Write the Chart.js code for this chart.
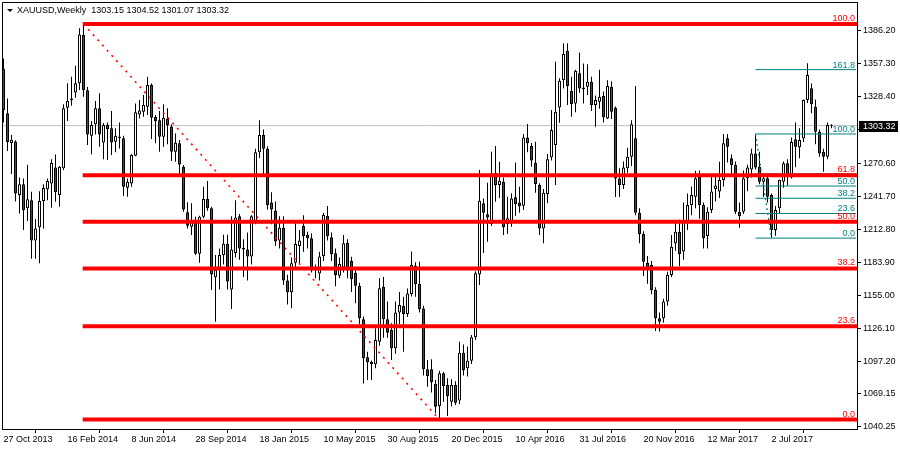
<!DOCTYPE html>
<html><head><meta charset="utf-8">
<script src="https://cdn.jsdelivr.net/npm/chart.js@4.4.1/dist/chart.umd.min.js"></script>
<style>html,body{margin:0;padding:0;background:#fff;}#wrap{width:900px;height:450px;}</style>
</head><body><div id="wrap"><canvas id="c" width="900" height="450"></canvas></div>
<script>
const titleText = 'XAUUSD,Weekly  1303.15 1304.52 1301.07 1303.32';
const dateLabels = ['27 Oct 2013','16 Feb 2014','8 Jun 2014','28 Sep 2014','18 Jan 2015','10 May 2015','30 Aug 2015','20 Dec 2015','10 Apr 2016','31 Jul 2016','20 Nov 2016','12 Mar 2017','2 Jul 2017'];
const yTickValues = [1040.25,1069.15,1097.20,1126.10,1155.00,1183.90,1212.80,1241.70,1270.60,1299.50,1328.40,1357.30,1386.20];

const opens = [1353,1314,1288,1289.5,1242.6,1252,1231,1238,1203,1214.4,
1237.4,1247.6,1252.8,1266.8,1242.6,1266,1318.9,1325.6,1332.3,1340.2,
1382.4,1334.1,1294.5,1304.4,1318.4,1288.6,1303.8,1300.9,1289.2,1292.5,
1292.2,1249,1252.8,1277,1313.1,1315.5,1319.8,1338.7,1310.8,1307.9,
1293.6,1309,1302.6,1280.5,1287.8,1267.4,1227.5,1215,1218.8,1191.4,
1223.7,1239.2,1231,1170.7,1177.1,1190,1200,1160,1192,1224,
1195,1195,1189,1219,1280,1295,1283,1236,1229,1203,
1214,1168,1158,1183.5,1198,1215.6,1207.7,1204.8,1177,1174,
1189.4,1224.3,1205.7,1191.7,1172,1179.5,1201,1185,1174.8,1163.2,
1134,1100.8,1096.8,1094.7,1114.5,1162.6,1134,1124.7,1108.7,1139.9,
1145.7,1138.7,1156.2,1180.6,1164.9,1143.4,1090.4,1090.4,1077.5,1058.3,
1086.9,1076.7,1062.1,1076.7,1063,1104.9,1091.2,1097.9,1118.3,1173.3,
1235.4,1225.8,1217.3,1262.2,1251.4,1254.3,1217.3,1218.5,1240.6,1236,
1233.3,1293,1285.5,1270.9,1251.4,1213.5,1243.5,1275.6,1286.3,1319.2,
1343.1,1368.7,1333.5,1322.7,1349,1335,1337.3,1341.7,1321.3,1324.2,
1329.1,1309.6,1337.3,1319,1257,1251.4,1266,1276.1,1292.2,1227.2,
1208.6,1183.5,1181.5,1159.7,1134.9,1134.9,1149.5,1172.8,1200.4,1210.6,
1193.2,1220,1233.9,1241.2,1258.7,1233.9,1206.8,1229.6,1247.8,1245.7,
1255.8,1292.2,1274.7,1268.9,1228.1,1228.1,1257.2,1265,1279,1267.4,
1254.3,1257.2,1242.6,1212.1,1231,1254.3,1270.3,1258,1291.3,1284.3,
1292,1325.6,1336,1319.8,1298,1280.5,1276.1,1303.15];
const highs = [1362,1327,1295,1290.5,1258,1257,1269,1245.6,1221.7,1246,
1252,1257,1273.8,1278,1268,1321.9,1340.2,1346,1355.6,1388.3,
1392.1,1337,1307.3,1324.8,1331.5,1305.5,1306,1316,1300.9,1306,
1294.5,1257,1278.2,1322.7,1325.6,1330,1346,1340,1312.5,1316,
1321.9,1318.4,1304.4,1296.5,1290.7,1268.9,1236.3,1235.4,1223.7,1224.5,
1249.9,1254.9,1232.5,1190.2,1196,1208,1208,1224,1238,1226,
1204,1210,1225,1283,1308,1300,1285,1245,1237,1224,
1224,1173,1188,1218.5,1212,1225,1210.5,1209.2,1182,1193,
1227,1233,1210,1196,1188,1207.7,1204,1188.8,1177,1166,
1136.4,1105.8,1098,1126.2,1170,1171,1149.5,1130.5,1149.5,1158,
1153.8,1161,1193.2,1184,1184.4,1146,1098.5,1099.1,1081,1089.2,
1088,1082.5,1081.6,1080,1114.5,1112,1110.2,1120.4,1176,1264.5,
1239.7,1253.4,1280.5,1285.5,1271.8,1258,1241.2,1244.1,1270.9,1249.9,
1296,1304.7,1288,1289.2,1253,1248,1278.5,1316.9,1359.1,1344.6,
1375.2,1375.2,1346,1352,1367.2,1357.5,1357,1346,1329.7,1352,
1333,1343,1342,1320,1266,1272,1284,1308,1337.9,1231,
1211,1189.4,1185,1162,1140,1152,1175.7,1207.7,1219,1221,
1236,1244,1250,1263.9,1264,1236,1232,1261,1259,1271.8,
1296,1296,1278,1272,1236,1264,1269,1283,1296,1280.5,
1259,1260,1244,1233,1256,1272,1274,1293,1306,1300.9,
1326,1357.7,1340,1326,1300,1283,1306,1304.52];
const lows = [1306,1281,1261,1237,1226.6,1212,1220,1187,1187,1183,
1213.5,1238,1231.6,1236.8,1232.5,1264.5,1307.3,1320.7,1327.7,1334.4,
1328.6,1286.3,1278.2,1295.6,1284.9,1274,1273.2,1277.6,1280,1283.4,
1241.8,1241.2,1249.9,1276.5,1309.6,1311,1312.5,1291.6,1287.8,1280.5,
1284.9,1286.9,1272.3,1271.8,1258.7,1228,1213.5,1207.7,1190.2,1183.5,
1222.3,1229,1159.7,1132,1160,1182,1160,1143,1188,1186,
1171,1168,1182,1217,1275,1260,1230,1217,1198,1196,
1164,1147,1143.6,1178,1183,1193,1196,1175,1170,1168,
1185,1203,1185,1163,1170,1175,1170,1158,1148,1130,
1078,1081,1081,1091.2,1111,1118,1118,1098.5,1104,1130,
1105.8,1136,1154,1153.8,1139.9,1085,1075.2,1070,1052,1046.4,
1062,1049.5,1058,1059.2,1060,1085,1084,1095,1116,1164,
1192,1201.9,1215.6,1236.8,1240,1207.7,1208.6,1215,1224.3,1227.2,
1229.6,1280,1267.4,1244.7,1207.7,1200.4,1235.4,1272.7,1251.4,1305.8,
1335.8,1321.3,1311,1315,1332,1322.7,1330,1316,1302.3,1318,
1306,1309,1309,1241,1241,1248,1262,1268,1225,1200.4,
1171.9,1165.1,1156,1123.9,1123.5,1131,1146,1171,1194,1180.6,
1186,1212,1225,1231,1222,1196,1196,1227,1237,1240,
1250,1271,1260,1226,1214,1226,1246,1258,1265,1252,
1241,1236,1205,1207,1227,1249,1251,1257,1267,1274.7,
1289,1323,1314,1287,1276,1263,1274,1301.07];
const closes = [1317,1289,1291,1244,1252,1229.3,1239,1203,1213.5,1237.4,
1248.8,1254.9,1270.6,1245,1267.4,1318.4,1324.8,1327,1340.2,1383,
1334.4,1295.6,1303.8,1318.4,1295.6,1303.8,1300.3,1288.6,1294.5,1293.5,
1249.9,1254.3,1277.6,1314.9,1316.6,1321.3,1338.7,1310.2,1307.3,1293.6,
1310.2,1303.8,1280.5,1288.4,1269.4,1230.1,1215.9,1218.8,1191.4,1223.7,
1239.2,1231,1173.3,1177.1,1190.2,1200,1167,1195,1223,1196,
1196.5,1189,1224,1280,1295,1283,1234,1230,1202,1214,
1168,1157.6,1183,1199.8,1203,1206.8,1204.8,1176.6,1178.5,1189,
1225.2,1206.8,1191.1,1172.8,1182.4,1200.4,1176.6,1169,1163.4,1134.9,
1100,1096.5,1094.7,1116,1161.1,1134,1122.4,1108.7,1139.9,1146.6,
1138.7,1156.7,1181.5,1164.9,1142.8,1090.4,1084.5,1079,1057.7,1086.9,
1075.8,1067.1,1076.7,1061.2,1104.9,1089.8,1097.9,1118.3,1174.2,1237.7,
1227.2,1223.1,1259.3,1251.4,1255.2,1214.4,1222.3,1239.7,1234.8,1233,
1293,1287.8,1272.7,1252.3,1213.5,1244.7,1273.8,1299.4,1315.5,1342.5,
1365.8,1337.9,1322.2,1351,1335.8,1336.7,1341.7,1321.3,1325.6,1328.6,
1310.5,1337.9,1315.5,1257,1251.4,1266.8,1276.1,1304.4,1227.2,1208.6,
1184.4,1177.1,1159.7,1134.9,1132,1149.5,1172.8,1197.5,1210.6,1191.1,
1220,1234,1242.6,1257.2,1234,1204.8,1228.1,1245.7,1251,1255.8,
1287.8,1284.9,1268.9,1228.1,1224,1257.2,1266.8,1279,1266.8,1254.3,
1257.2,1241.2,1212.1,1229.6,1255.8,1270.3,1258.7,1289,1284.9,1290.7,
1325.6,1347.5,1322,1298,1279,1276.1,1303.8,1303.32];

const redFibLabels = ['0.0','23.6','38.2','50.0','61.8','100.0'];
const redFibPrices = [1046.4,1128.0,1178.5,1219.3,1260.0,1392.1];
const redFibHighBar = 20, redFibLowBar = 109;
const tealFibLabels = ['0.0','23.6','38.2','50.0','61.8','100.0','161.8'];
const tealFibPrices = [1205.0,1226.5,1239.8,1250.5,1261.2,1296.0,1352.2];
const tealFibHighBar = 188, tealFibLowBar = 192;
const lastPrice = 1303.32;

const X_MIN = -0.375, X_MAX = 213.375;
const FONT = "'Liberation Sans', Arial, sans-serif";
const RED = '#ff0000', TEAL = '#008080';

const idx = opens.map((_, i) => i);
const wickData = idx.map(i => ({x: i, y: [lows[i], highs[i]]}));
const bodyData = idx.map(i => ({x: i, y: [opens[i], closes[i]]}));
const bodyColors = idx.map(i => closes[i] >= opens[i] ? '#ffffff' : RED);

const datasets = [];
datasets.push({type:'line', data:[{x:X_MIN,y:lastPrice},{x:X_MAX,y:lastPrice}], borderColor:'#c0c0c0', borderWidth:1, pointRadius:0, order:20});
datasets.push({type:'bar', data:wickData, backgroundColor:'#000', borderWidth:0, barThickness:1, grouped:false, inflateAmount:0, order:10});
datasets.push({type:'bar', data:bodyData, backgroundColor:bodyColors, borderColor:'#000', borderWidth:1, borderSkipped:false, barThickness:3, grouped:false, inflateAmount:0, minBarLength:1, order:9});
datasets.push({type:'line', data:[{x:redFibHighBar,y:redFibPrices[5]},{x:redFibLowBar,y:redFibPrices[0]}], borderColor:RED, borderWidth:1.6, borderDash:[2,5], pointRadius:0, order:8});
datasets.push({type:'line', data:[{x:tealFibHighBar,y:tealFibPrices[5]},{x:tealFibLowBar,y:tealFibPrices[0]}], borderColor:TEAL, borderWidth:1.3, borderDash:[2,3], pointRadius:0, order:8});
tealFibPrices.forEach(p => datasets.push({type:'line', data:[{x:tealFibHighBar,y:p},{x:X_MAX-0.25,y:p}], borderColor:TEAL, borderWidth:1, pointRadius:0, order:7}));
redFibPrices.forEach(p => datasets.push({type:'line', data:[{x:redFibHighBar-0.2,y:p},{x:X_MAX,y:p}], borderColor:RED, borderWidth:4, pointRadius:0, order:6}));

const overlay = {
  id:'overlay',
  afterDatasetsDraw(chart){
    const ctx = chart.ctx, ca = chart.chartArea, ys = chart.scales.y;
    ctx.save();
    ctx.font = '9px ' + FONT;
    ctx.textAlign = 'right';
    ctx.textBaseline = 'alphabetic';
    ctx.fillStyle = TEAL;
    tealFibPrices.forEach((p,k) => { if (tealFibLabels[k] !== '61.8') ctx.fillText(tealFibLabels[k], ca.right - 2, ys.getPixelForValue(p) - 2); });
    ctx.fillStyle = RED;
    redFibPrices.forEach((p,k) => ctx.fillText(redFibLabels[k], ca.right - 2, ys.getPixelForValue(p) - 3));
    ctx.strokeStyle = '#000'; ctx.lineWidth = 1;
    ctx.beginPath();
    ctx.moveTo(ca.left + 0.5, ca.bottom); ctx.lineTo(ca.left + 0.5, ca.top + 0.5); ctx.lineTo(ca.right, ca.top + 0.5);
    ctx.stroke();
    ctx.restore();
  },
  afterDraw(chart){
    const ctx = chart.ctx, ca = chart.chartArea, ys = chart.scales.y;
    ctx.save();
    const py = Math.round(ys.getPixelForValue(lastPrice));
    ctx.fillStyle = '#000';
    ctx.fillRect(ca.right + 2, py - 5, 39, 11);
    ctx.fillStyle = '#fff';
    ctx.font = '9px ' + FONT;
    ctx.textAlign = 'left'; ctx.textBaseline = 'middle';
    ctx.fillText(lastPrice.toFixed(2), ca.right + 6, py + 0.5);
    ctx.fillStyle = '#000';
    ctx.beginPath(); ctx.moveTo(7, 9); ctx.lineTo(13, 9); ctx.lineTo(10, 12); ctx.closePath(); ctx.fill();
    ctx.font = '9px ' + FONT;
    ctx.textBaseline = 'middle';
    ctx.fillText(titleText, 17, 11);
    ctx.restore();
  }
};

new Chart(document.getElementById('c'), {
  type:'bar',
  data:{datasets},
  options:{
    responsive:false, animation:false, devicePixelRatio:1,
    layout:{padding:{left:2, top:2, right:0, bottom:0}},
    plugins:{legend:{display:false}, tooltip:{enabled:false}},
    scales:{
      x:{type:'linear', min:X_MIN, max:X_MAX, offset:false,
        grid:{display:true, drawOnChartArea:false, drawTicks:true, tickLength:4, color:'#000'},
        border:{display:true, color:'#000'},
        ticks:{autoSkip:false, maxRotation:0, minRotation:0, align:'start', padding:1, color:'#000', font:{family:FONT, size:9},
          callback:(v) => dateLabels[Math.round(v/16)] || ''},
        afterBuildTicks:(s) => { s.ticks = dateLabels.map((_,k) => ({value:k*16})); },
        afterFit:(s) => { s.height = 21; s.paddingLeft = 0; s.paddingRight = 0; }
      },
      y:{type:'linear', position:'right', min:1038.2, max:1411.3,
        grid:{display:true, drawOnChartArea:false, drawTicks:true, tickLength:4, color:'#000'},
        border:{display:true, color:'#000'},
        ticks:{padding:2, color:'#000', font:{family:FONT, size:9}, callback:(v) => Number(v).toFixed(2)},
        afterBuildTicks:(s) => { s.ticks = yTickValues.map(v => ({value:v})); },
        afterFit:(s) => { s.width = 43; s.paddingTop = 0; s.paddingBottom = 0; }
      }
    }
  },
  plugins:[overlay]
});
</script></body></html>
